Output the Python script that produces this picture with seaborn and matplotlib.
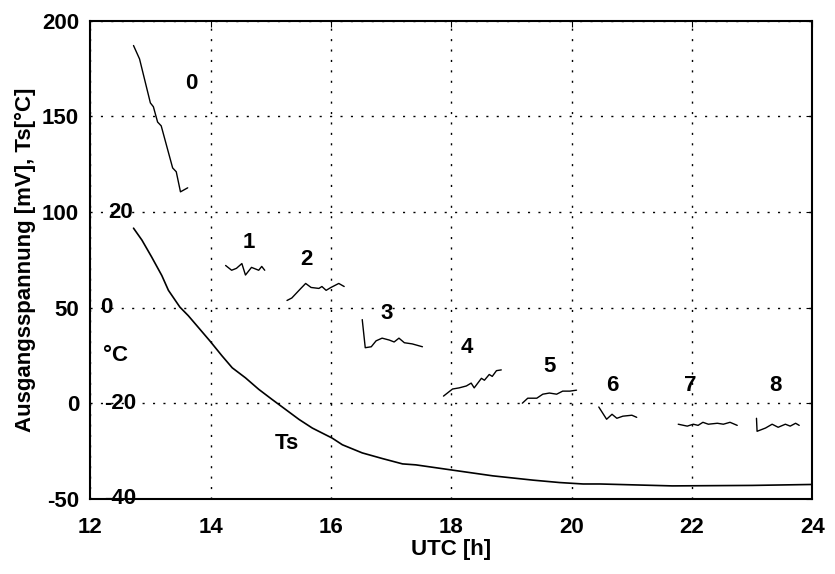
import numpy as np
import pandas as pd
import seaborn as sns
import matplotlib.pyplot as plt

# Output voltage segments (time in h UTC, value in mV)
seg0_t = [12.72, 12.82, 13.0, 13.05, 13.12, 13.18, 13.37, 13.43, 13.5, 13.62]
seg0_v = [187, 180, 157, 155, 147, 145, 123, 121, 110.5, 112.6]
seg1_t = [14.25, 14.35, 14.43, 14.52, 14.58, 14.68, 14.8, 14.85, 14.9]
seg1_v = [72, 69.5, 70.5, 73, 67, 71, 69.5, 71.5, 69.5]
seg2_t = [15.27, 15.35, 15.5, 15.58, 15.67, 15.8, 15.85, 15.92, 16.0, 16.13, 16.22]
seg2_v = [53.7, 55, 60, 62.6, 60.5, 60, 61, 59, 60.5, 62.6, 61]
seg3_t = [16.52, 16.57, 16.67, 16.75, 16.85, 16.97, 17.05, 17.13, 17.22, 17.35, 17.52]
seg3_v = [43.7, 29, 29.5, 32.6, 34, 33, 32, 34, 31.6, 31, 29.5]
seg4_t = [17.87, 18.02, 18.13, 18.25, 18.33, 18.38, 18.5, 18.55, 18.63, 18.68, 18.75, 18.83]
seg4_v = [3.7, 7.4, 8, 9, 10.5, 8, 13, 12, 15, 14, 17, 17.4]
seg5_t = [19.18, 19.27, 19.42, 19.52, 19.63, 19.75, 19.85, 19.97, 20.08]
seg5_v = [0, 2.6, 2.6, 4.7, 5.3, 4.7, 6.3, 6.3, 6.8]
seg6_t = [20.45, 20.58, 20.67, 20.75, 20.85, 21.0, 21.08]
seg6_v = [-2, -8.4, -5.8, -7.9, -6.8, -6.3, -7.4]
seg7_t = [21.77, 21.92, 22.02, 22.1, 22.18, 22.27, 22.42, 22.52, 22.63, 22.75]
seg7_v = [-11, -12, -11, -11.6, -10, -11, -10.5, -11, -10, -11.6]
seg8_t = [23.07, 23.08, 23.22, 23.33, 23.43, 23.55, 23.63, 23.72, 23.78]
seg8_v = [-7.9, -14.7, -13, -11, -12.6, -11, -12, -10.5, -11.6]

# Surface temperature Ts in degC
ts_t = [12.72, 12.86, 13.02, 13.19, 13.3, 13.49, 13.63, 13.8, 13.99, 14.19,
        14.36, 14.58, 14.8, 15.02, 15.47, 15.69, 16.02, 16.19, 16.52, 16.86,
        17.19, 17.41, 18.02, 18.69, 19.36, 19.8, 20.19, 20.47, 21.67, 23.0, 24.0]
ts_c = [16.6, 14.1, 10.6, 6.7, 3.6, 0.1, -1.7, -4.2, -7.0, -10.1,
        -12.6, -14.7, -17.1, -19.2, -23.4, -25.2, -27.3, -28.7, -30.4, -31.6,
        -32.7, -32.9, -34.0, -35.2, -36.1, -36.6, -36.9, -36.9, -37.3, -37.2, -37.0]

seg_labels = ['0', '1', '2', '3', '4', '5', '6', '7', '8']
label_x = [13.68, 14.63, 15.6, 16.93, 18.25, 19.63, 20.67, 21.97, 23.38]
label_y = [167, 84, 75, 47, 29, 19, 9.5, 9.5, 9.5]

segs = [(seg0_t, seg0_v), (seg1_t, seg1_v), (seg2_t, seg2_v), (seg3_t, seg3_v),
        (seg4_t, seg4_v), (seg5_t, seg5_v), (seg6_t, seg6_v), (seg7_t, seg7_v),
        (seg8_t, seg8_v)]

rows = []
for i, (t, v) in enumerate(segs):
    for a, b in zip(t, v):
        rows.append({'t': a, 'v': b, 'seg': i})
df = pd.DataFrame(rows)

# Ts mapped onto the mV axis: 20 -> 100, 0 -> 50, -20 -> 0, -40 -> -50
ts_df = pd.DataFrame({'t': ts_t, 'v': 50 + 2.5 * np.array(ts_c)})

sns.set_style('white')
plt.rcParams['font.family'] = ['Liberation Sans', 'DejaVu Sans']
plt.rcParams['font.weight'] = 'bold'
plt.rcParams['text.color'] = 'black'
plt.rcParams['axes.labelcolor'] = 'black'
plt.rcParams['axes.unicode_minus'] = False

fig = plt.figure(figsize=(8.35, 5.74), dpi=100)
ax = fig.add_axes([0.108, 0.131, 0.865, 0.833])

sns.lineplot(data=df, x='t', y='v', units='seg', estimator=None,
             color='black', linewidth=1.0, ax=ax)
sns.lineplot(data=ts_df, x='t', y='v', color='black', linewidth=1.2, ax=ax)

fs = 16
for lab, x, y in zip(seg_labels, label_x, label_y):
    ax.text(x, y, lab, fontsize=fs, fontweight='bold', ha='center', va='center')
ax.text(15.27, -21, 'Ts', fontsize=fs, fontweight='bold', ha='center', va='center')

# secondary temperature scale written inside the axes
for txt, y in [('20', 99.5), ('0', 50), ('°C', 25), ('-20', 0), ('-40', -50)]:
    x = 12.27 if txt == '0' else (12.42 if txt == '°C' else 12.5)
    ax.text(x, y, txt, fontsize=fs, fontweight='bold', ha='center', va='center')

ax.set_xlim(12, 24)
ax.set_ylim(-50, 200)
ax.set_xticks(range(12, 25, 2))
ax.set_yticks([-50, 0, 50, 100, 150, 200])
ax.grid(True, color='black', linestyle=(0, (1.5, 6)), linewidth=1.0)
ax.tick_params(direction='in', length=4, labelsize=fs, top=True, right=True,
               colors='black')
ax.tick_params(axis='x', pad=13)
ax.tick_params(axis='y', pad=8)
for lab in ax.get_xticklabels() + ax.get_yticklabels():
    lab.set_fontweight('bold')
for s in ax.spines.values():
    s.set_color('black')
    s.set_linewidth(1.5)

ax.set_xlabel('UTC [h]', fontsize=fs, fontweight='bold', labelpad=1)
ax.set_ylabel('Ausgangsspannung [mV], Ts[°C]', fontsize=fs, fontweight='bold',
              labelpad=4)

fig.savefig('out.png', dpi=100)
